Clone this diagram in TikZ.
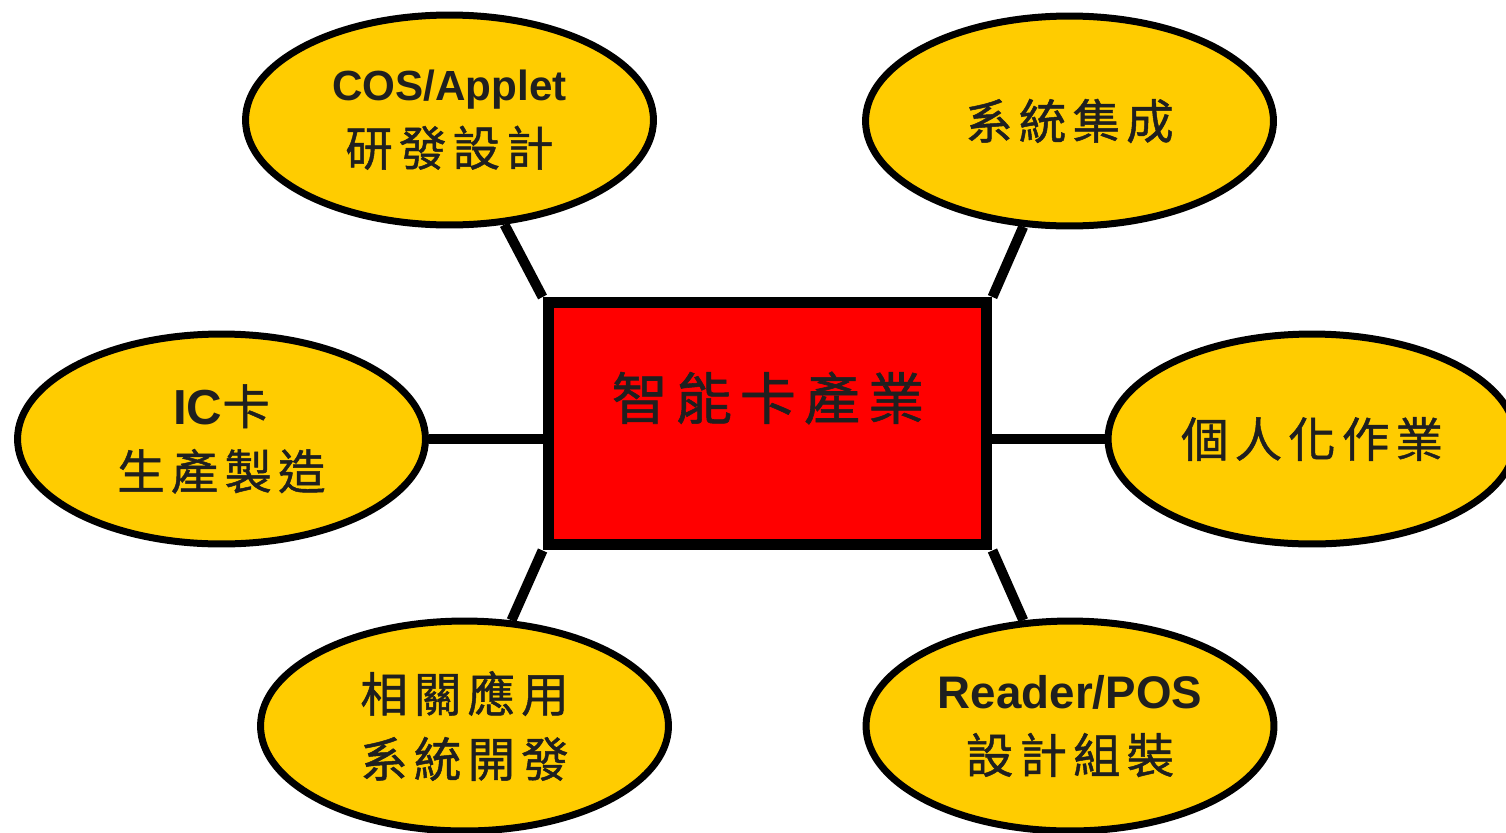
\documentclass[tikz,border=0pt]{standalone}
\usepackage{fontspec}
\setmainfont{Liberation Sans}
\newfontfamily\cjk[LetterSpace=13,FakeBold=1]{Noto Sans CJK TC}
\newfontfamily\cjkc[LetterSpace=14,FakeBold=1]{Noto Sans CJK TC}
\usetikzlibrary{shapes.geometric,backgrounds}
\definecolor{gold}{HTML}{FFCC00}
\definecolor{ink}{HTML}{1F1F1F}
\begin{document}
\begin{tikzpicture}[x=0.02cm,y=-0.02cm,
  bub/.style={ellipse,draw=black,line width=0.14cm,fill=gold,minimum width=8.16cm,minimum height=4.2cm,inner sep=0pt,align=center,text=ink,font=\fontsize{27}{37}\selectfont},
  core/.style={rectangle,draw=black,line width=0.22cm,fill=red,minimum width=8.78cm,minimum height=4.85cm},
  coretext/.style={font=\cjkc\fontsize{32}{36}\selectfont,text=ink,inner sep=0pt},
  link/.style={line width=0.2cm,draw=black}]
\useasboundingbox (0,0) rectangle (1506,832);
\node[core] (R) at (767.5,423.75) {};
\node[coretext] (RT) at (768,398) {智能卡產業};
\node[bub] (E1) at (449.5,120) {{\fontsize{24}{37}\selectfont\textbf{COS/Applet}}\\{\cjk 研發設計}};
\node[bub] (E2) at (1069.5,121) {{\cjk 系統集成}};
\node[bub] (E3) at (221.5,439) {{\fontsize{28}{37}\selectfont\textbf{IC}}{\cjk 卡}\\{\cjk 生產製造}};
\node[bub] (E4) at (1312,439) {{\cjk 個人化作業}};
\node[bub] (E5) at (464.5,726) {{\cjk 相關應用}\\{\cjk 系統開發}};
\node[bub] (E6) at (1070,726) {{\fontsize{26}{37}\selectfont\textbf{Reader/POS}}\\{\cjk 設計組裝}};
\begin{scope}[on background layer]
\draw[link] (R.north west) -- (E1);
\draw[link] (R.north east) -- (E2);
\draw[link] (E3.east) -- (E3.east -| R.west);
\draw[link] (E4.west -| R.east) -- (E4.west);
\draw[link] (R.south west) -- (E5);
\draw[link] (R.south east) -- (E6);
\end{scope}
\end{tikzpicture}
\end{document}
